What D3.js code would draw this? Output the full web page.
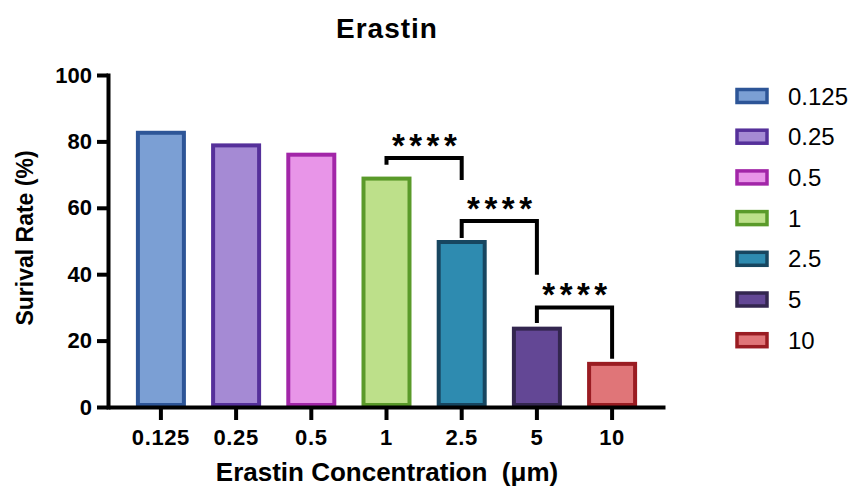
<!DOCTYPE html>
<html><head><meta charset="utf-8">
<script src="https://cdn.jsdelivr.net/npm/d3@7"></script>
<style>body{margin:0;background:#fff}svg{display:block}text{font-family:"Liberation Sans",Arial,sans-serif}</style>
</head><body><svg id="c" width="855" height="489"></svg>
<script>
const categories = ["0.125","0.25","0.5","1","2.5","5","10"];
const values = [83.2, 79.4, 76.6, 69.4, 50.3, 24.2, 13.6];
const fills = ["#7b9fd4","#a58ad4","#e895e8","#bde08a","#2e8bb0","#634795","#e07578"];
const strokes = ["#2d5597","#55309a","#a226a8","#5a9a2a","#174660","#33264f","#9a1c22"];
const yTicks = [0,20,40,60,80,100];
// brackets: from, to, top value, left leg end value, right leg end value, label
const bracketFrom = ["1","2.5","5"];
const bracketTo = ["2.5","5","10"];
const bracketTop = [75.0, 56.0, 30.0];
const bracketLeftEnd = [73.0, 50.9, 25.3];
const bracketRightEnd = [68.4, 39.8, 14.5];
const bracketLabel = ["****","****","****"];

const svg = d3.select("#c");
const L = 108, R = 665, T = 75, B = 407;
const x = d3.scaleBand().domain(categories).range([L, R]).paddingInner(0.335).paddingOuter(0.371);
const y = d3.scaleLinear().domain([0,100]).range([B, T]);

// title
svg.append("text").attr("x",387).attr("y",38).attr("text-anchor","middle")
  .attr("font-size",28).attr("font-weight","bold").attr("letter-spacing","1px").text("Erastin");

// bars
const sw = 4;
svg.append("g").selectAll("rect").data(values).join("rect")
  .attr("x",(d,i)=>x(categories[i])+sw/2)
  .attr("y",d=>y(d)+sw/2)
  .attr("width",x.bandwidth()-sw)
  .attr("height",d=>B-y(d)-sw)
  .attr("fill",(d,i)=>fills[i]).attr("stroke",(d,i)=>strokes[i]).attr("stroke-width",sw);

// y axis
const ya = svg.append("g").attr("transform",`translate(${L},0)`)
  .call(d3.axisLeft(y).tickValues(yTicks).tickSize(11).tickPadding(5).tickSizeOuter(0));
ya.select(".domain").attr("stroke","#000").attr("stroke-width",4).attr("stroke-linecap","square");
ya.selectAll(".tick line").attr("stroke","#000").attr("stroke-width",4);
ya.selectAll(".tick text").attr("font-size",22).attr("font-weight","bold").attr("fill","#000")
  .attr("font-family","Liberation Sans, Arial, sans-serif");

// x axis
const xa = svg.append("g").attr("transform",`translate(0,${B})`)
  .call(d3.axisBottom(x).tickSize(13).tickPadding(9).tickSizeOuter(0));
xa.select(".domain").attr("stroke","#000").attr("stroke-width",4);
xa.selectAll(".tick line").attr("stroke","#000").attr("stroke-width",4);
xa.selectAll(".tick text").attr("font-size",22).attr("font-weight","bold").attr("fill","#000")
  .attr("letter-spacing","0.6px").attr("font-family","Liberation Sans, Arial, sans-serif");

// axis titles
svg.append("text").attr("x",387).attr("y",481).attr("text-anchor","middle")
  .attr("font-size",26).attr("font-weight","bold")
  .style("white-space","pre").text("Erastin Concentration  (μm)");
svg.append("text").attr("transform",`translate(33,238) rotate(-90)`).attr("text-anchor","middle")
  .attr("font-size",23).attr("font-weight","bold").text("Surival Rate (%)");

// brackets
const cx = c => x(c) + x.bandwidth()/2;
const bg = svg.append("g");
bracketFrom.forEach((f,i)=>{
  const x1 = cx(f), x2 = cx(bracketTo[i]);
  const yt = y(bracketTop[i]);
  bg.append("path")
    .attr("d",`M${x1},${y(bracketLeftEnd[i])}V${yt}H${x2}V${y(bracketRightEnd[i])}`)
    .attr("fill","none").attr("stroke","#000").attr("stroke-width",4);
  bg.append("text").attr("x",(x1+x2)/2+2.5).attr("y",yt-1).attr("text-anchor","middle")
    .attr("font-family","DejaVu Sans").attr("font-size",33).attr("font-weight","bold")
    .attr("letter-spacing","4.5px").text(bracketLabel[i]);
});

// legend
const lg = svg.append("g");
categories.forEach((c,i)=>{
  const cy = 96 + i*40.7;
  lg.append("rect").attr("x",737).attr("y",cy-6.5).attr("width",30).attr("height",13)
    .attr("fill",fills[i]).attr("stroke",strokes[i]).attr("stroke-width",3.5);
  lg.append("text").attr("x",788).attr("y",cy).attr("dy","0.36em").attr("font-size",24).text(c);
});
</script></body></html>
